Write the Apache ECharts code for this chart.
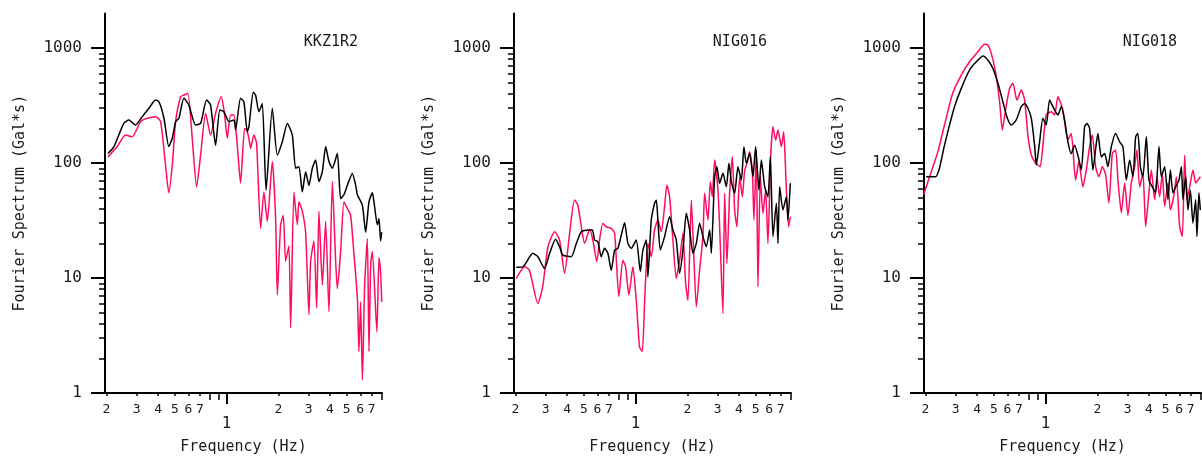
<!DOCTYPE html>
<html><head><meta charset="utf-8">
<script src="https://cdn.jsdelivr.net/npm/echarts@6/dist/echarts.min.js"></script>
<style>html,body{margin:0;padding:0;background:#fff}#c{width:1202px;height:459px}</style>
</head><body><div id="c"></div>
<script>
// ---- data: [frequency (Hz), Fourier amplitude (Gal*s)] ----
const kkzBlack = [[0.204,121],[0.221,139],[0.252,221],[0.270,237],[0.295,214],[0.323,253],[0.353,299],[0.386,353],[0.404,341],[0.432,245],[0.461,139],[0.483,164],[0.505,229],[0.528,245],[0.564,365],[0.603,319],[0.660,214],[0.706,221],[0.765,353],[0.807,319],[0.863,143],[0.914,289],[0.965,279],[1.031,229],[1.103,237],[1.128,194],[1.206,365],[1.261,341],[1.320,187],[1.349,207],[1.431,412],[1.475,390],[1.542,279],[1.614,330],[1.698,58],[1.846,299],[1.974,117],[2.111,153],[2.257,221],[2.414,175],[2.523,90],[2.637,93],[2.760,56],[2.885,84],[3.016,64],[3.156,90],[3.299,106],[3.448,69],[3.609,84],[3.773,139],[3.943,103],[4.127,90],[4.413,121],[4.613,49],[4.822,53],[5.047,64],[5.397,81],[5.642,64],[5.772,53],[6.172,43],[6.451,25],[6.743,46],[7.057,55],[7.210,46],[7.546,29],[7.709,33],[7.886,21],[8.0,25]];
const kkzRed = [[0.204,113],[0.231,139],[0.258,175],[0.282,169],[0.316,229],[0.345,245],[0.386,253],[0.413,229],[0.441,96],[0.461,55],[0.483,96],[0.505,229],[0.540,377],[0.564,390],[0.595,404],[0.631,164],[0.669,62],[0.706,117],[0.755,271],[0.807,175],[0.863,271],[0.931,377],[0.974,262],[1.009,164],[1.055,262],[1.103,262],[1.154,143],[1.206,67],[1.273,200],[1.308,194],[1.349,164],[1.380,134],[1.442,175],[1.495,148],[1.578,27],[1.649,56],[1.726,31],[1.846,103],[1.929,33],[1.974,7.1],[2.063,29],[2.139,35],[2.206,14],[2.306,19],[2.360,3.7],[2.466,56],[2.581,29],[2.637,46],[2.760,38],[2.885,25],[3.016,4.8],[3.085,14],[3.225,21],[3.344,5.5],[3.448,38],[3.609,8.7],[3.773,31],[3.943,5.1],[4.127,69],[4.314,14],[4.413,8.1],[4.613,17],[4.822,46],[5.047,40],[5.275,35],[5.513,16],[5.772,6.7],[5.895,2.3],[6.030,6.2],[6.172,1.3],[6.364,8.7],[6.599,22],[6.743,2.3],[6.900,13],[7.057,17],[7.500,3.4],[7.709,15],[7.886,11],[8.0,6.2]];
const nig016Black = [[0.202,12.4],[0.221,12.5],[0.252,16.4],[0.270,15.3],[0.295,12.1],[0.316,16.4],[0.342,21.7],[0.361,18.7],[0.377,15.8],[0.422,15.3],[0.452,20.0],[0.483,25.3],[0.528,26.2],[0.560,26.2],[0.577,21.4],[0.603,20.7],[0.631,15.3],[0.660,18.1],[0.690,16.4],[0.722,11.7],[0.755,17.5],[0.789,18.1],[0.826,23.7],[0.863,30.3],[0.902,20.0],[0.944,18.1],[1.009,21.4],[1.065,11.4],[1.103,17.5],[1.154,21.4],[1.179,10.2],[1.234,31.9],[1.290,44.7],[1.320,47.7],[1.349,31.9],[1.393,17.5],[1.475,22.9],[1.578,34.1],[1.649,26.2],[1.726,21.4],[1.804,11.0],[1.886,17.5],[1.974,36.5],[2.063,26.2],[2.157,16.4],[2.257,20.0],[2.359,29.9],[2.466,22.9],[2.581,18.7],[2.698,26.2],[2.760,16.4],[2.885,76.0],[2.975,92.9],[3.085,66.6],[3.225,81.4],[3.375,62.2],[3.494,99.4],[3.609,68.8],[3.773,54.5],[3.943,92.9],[4.127,71.1],[4.273,138.6],[4.413,99.4],[4.613,121.4],[4.822,76.0],[4.998,138.6],[5.226,58.2],[5.397,106],[5.642,62.2],[5.895,50.9],[6.088,113.4],[6.305,22.9],[6.599,44.7],[6.743,20.0],[6.899,62.2],[7.21,39.0],[7.546,50.9],[7.709,31.9],[7.96,66.6]];
const nig016Red = [[0.202,9.9],[0.226,12.5],[0.241,11.7],[0.270,6.0],[0.288,8.4],[0.309,18.7],[0.338,25.3],[0.361,21.4],[0.386,11.0],[0.413,24.5],[0.441,47.7],[0.461,43.1],[0.483,27.9],[0.505,20.0],[0.540,26.5],[0.564,21.4],[0.595,13.9],[0.617,21.4],[0.645,29.9],[0.675,27.9],[0.722,27.0],[0.755,24.5],[0.799,6.9],[0.843,14.3],[0.875,12.5],[0.914,7.1],[0.965,12.5],[1.009,6.4],[1.055,2.5],[1.094,2.3],[1.128,6.0],[1.179,20.0],[1.234,15.3],[1.290,26.2],[1.349,31.9],[1.411,25.3],[1.475,41.7],[1.522,64.4],[1.578,50.9],[1.649,21.4],[1.726,9.9],[1.804,14.3],[1.886,24.5],[1.955,9.0],[2.017,6.4],[2.111,47.7],[2.177,17.5],[2.257,5.6],[2.359,11.7],[2.466,22.9],[2.523,54.5],[2.637,31.9],[2.723,68.8],[2.797,50.9],[2.885,106],[3.016,58.2],[3.085,27.9],[3.225,4.9],[3.299,54.5],[3.402,13.4],[3.528,54.5],[3.659,113.4],[3.773,39.0],[3.890,27.9],[4.034,76.0],[4.183,50.9],[4.314,85.6],[4.508,106],[4.613,125.4],[4.783,85.6],[4.887,31.9],[5.047,129.7],[5.156,8.4],[5.325,76.0],[5.513,36.5],[5.716,58.2],[5.895,20.0],[6.115,113.4],[6.305,207],[6.539,158.5],[6.743,193.6],[7.057,138.6],[7.278,187],[7.444,99.4],[7.546,58.2],[7.781,27.9],[7.96,34.1]];
const nig018Black = [[0.202,76],[0.229,76],[0.241,90],[0.258,143],[0.276,214],[0.295,309],[0.323,446],[0.361,644],[0.395,760],[0.432,852],[0.461,787],[0.493,666],[0.528,493],[0.564,341],[0.595,253],[0.631,214],[0.675,237],[0.722,309],[0.755,330],[0.789,299],[0.826,245],[0.863,143],[0.883,96],[0.923,153],[0.965,245],[1.009,214],[1.055,353],[1.103,309],[1.179,262],[1.234,309],[1.290,237],[1.349,153],[1.411,121],[1.475,143],[1.542,117],[1.614,87],[1.687,207],[1.740,221],[1.804,200],[1.886,87],[1.974,148],[2.017,181],[2.111,113],[2.206,121],[2.306,93],[2.414,139],[2.557,181],[2.698,153],[2.819,139],[2.951,71],[3.085,106],[3.225,76],[3.344,169],[3.448,181],[3.561,93],[3.687,76],[3.859,169],[3.996,71],[4.183,62],[4.372,55],[4.570,139],[4.719,76],[4.933,93],[5.156,48],[5.325,87],[5.513,55],[5.716,62],[5.975,71],[6.172,93],[6.305,48],[6.539,76],[6.743,39],[6.96,58],[7.21,30],[7.475,48],[7.607,23],[7.81,55],[7.96,39]];
const nig018Red = [[0.195,53],[0.216,84],[0.236,125],[0.258,214],[0.288,404],[0.323,582],[0.361,760],[0.404,929],[0.441,1077],[0.461,1062],[0.483,899],[0.511,622],[0.540,341],[0.560,194],[0.585,289],[0.617,446],[0.645,493],[0.681,353],[0.722,431],[0.755,353],[0.789,175],[0.826,117],[0.863,103],[0.902,96],[0.931,93],[0.965,143],[1.009,262],[1.079,279],[1.128,262],[1.179,377],[1.206,353],[1.261,289],[1.349,159],[1.411,181],[1.495,71],[1.563,103],[1.649,62],[1.726,87],[1.804,139],[1.871,175],[1.955,93],[2.044,76],[2.139,93],[2.236,79],[2.337,45],[2.446,121],[2.557,130],[2.637,71],[2.760,37],[2.885,67],[3.016,35],[3.156,67],[3.299,93],[3.402,130],[3.528,62],[3.687,81],[3.823,28],[3.996,55],[4.127,87],[4.314,48],[4.448,76],[4.613,51],[4.783,81],[4.933,42],[5.156,67],[5.325,39],[5.568,51],[5.772,76],[6.03,28],[6.255,23],[6.451,117],[6.652,48],[6.899,62],[7.21,87],[7.475,67],[7.709,71],[7.96,76]];

const panelTitles = ['KKZ1R2', 'NIG016', 'NIG018'];
const yMajorTicks = [1, 10, 100, 1000];
const yMinorTicks = [2,3,4,5,6,7,8,9,20,30,40,50,60,70,80,90,200,300,400,500,600,700,800,900];
const xLabelledTicks = [0.2,0.3,0.4,0.5,0.6,0.7,2,3,4,5,6,7];
const xPlainTicks = [0.8,0.9,8];
const xMajorTicks = [1];
const xName = 'Frequency (Hz)';
const yName = 'Fourier Spectrum (Gal*s)';

const panels = [[kkzBlack, kkzRed], [nig016Black, nig016Red], [nig018Black, nig018Red]];

// ---- layout / style ----
const FONT = 'DejaVu Sans Mono';
const TXT = '#1a1a1a';
const RED = '#ff0a64';
const lefts = [105, 514, 924];
const gridW = 277, gridTop = 13.4, gridH = 379.6;
const X_MIN = 0.196, X_MAX = 8.03, Y_MIN = 1, Y_MAX = 2000;

const grid = [], xAxis = [], yAxis = [], series = [], title = [];
lefts.forEach((l, g) => {
  grid.push({left: l, top: gridTop, width: gridW, height: gridH, containLabel: false, outerBoundsMode: 'none'});
  const base = {type: 'log', logBase: 10, gridIndex: g, position: 'bottom', min: X_MIN, max: X_MAX, splitLine: {show: false}};
  xAxis.push(Object.assign({}, base, {
    name: xName, nameLocation: 'middle', nameGap: 47,
    nameTextStyle: {fontFamily: FONT, fontSize: 15, color: TXT},
    axisLine: {show: true, lineStyle: {color: '#000', width: 2}},
    axisTick: {show: true, customValues: xLabelledTicks, length: 3, lineStyle: {color: '#000', width: 1.5}},
    axisLabel: {show: true, customValues: xLabelledTicks, interval: 0, margin: 10, fontFamily: FONT, fontSize: 13, color: TXT,
      formatter: v => String(Math.round(v < 1 ? v * 10 : v))}
  }));
  xAxis.push(Object.assign({}, base, {
    axisLine: {show: false},
    axisTick: {show: true, customValues: xMajorTicks, length: 11, lineStyle: {color: '#000', width: 2}},
    axisLabel: {show: true, customValues: xMajorTicks, interval: 0, margin: 23, fontFamily: FONT, fontSize: 16, color: TXT,
      formatter: v => String(Math.round(v))}
  }));
  xAxis.push(Object.assign({}, base, {
    axisLine: {show: false},
    axisTick: {show: true, customValues: xPlainTicks, length: 7, lineStyle: {color: '#000', width: 1.5}},
    axisLabel: {show: false}
  }));
  const ybase = {type: 'log', logBase: 10, gridIndex: g, position: 'left', min: Y_MIN, max: Y_MAX, splitLine: {show: false}};
  yAxis.push(Object.assign({}, ybase, {
    name: yName, nameLocation: 'middle', nameGap: 77,
    nameTextStyle: {fontFamily: FONT, fontSize: 15, color: TXT},
    axisLine: {show: true, lineStyle: {color: '#000', width: 2}},
    axisTick: {show: true, customValues: yMajorTicks, length: 14, lineStyle: {color: '#000', width: 2}},
    axisLabel: {show: true, customValues: yMajorTicks, interval: 0, margin: 23, fontFamily: FONT, fontSize: 16, color: TXT,
      formatter: v => String(Math.round(v))}
  }));
  yAxis.push(Object.assign({}, ybase, {
    axisLine: {show: false},
    axisTick: {show: true, customValues: yMinorTicks, length: 6, lineStyle: {color: '#000', width: 1.5}},
    axisLabel: {show: false}
  }));
  const [blk, red] = panels[g];
  series.push({type: 'line', xAxisIndex: 3 * g, yAxisIndex: 2 * g, data: blk, showSymbol: false, smooth: 0.2,
    lineStyle: {color: '#000', width: 1.5}, itemStyle: {color: '#000'}, z: 3, animation: false});
  series.push({type: 'line', xAxisIndex: 3 * g, yAxisIndex: 2 * g, data: red, showSymbol: false, smooth: 0.2,
    lineStyle: {color: RED, width: 1.5}, itemStyle: {color: RED}, z: 2, animation: false});
  title.push({text: panelTitles[g], right: 1202 - (l + gridW - 19), top: 30,
    textStyle: {fontFamily: FONT, fontSize: 15, fontWeight: 'normal', color: TXT}});
});

const chart = echarts.init(document.getElementById('c'), null, {renderer: 'canvas'});
chart.setOption({animation: false, backgroundColor: '#fff', title, grid, xAxis, yAxis, series});
</script>
</body></html>
